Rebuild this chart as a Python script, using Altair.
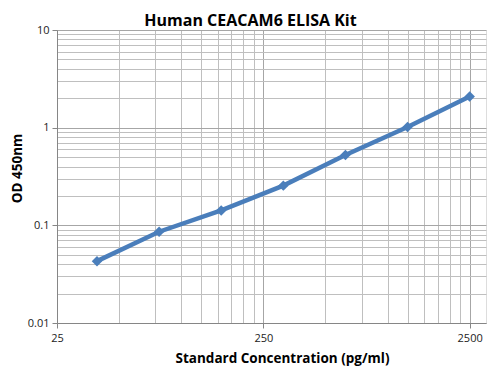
import altair as alt
import pandas as pd

conc = [39.06, 78.13, 156.25, 312.5, 625, 1250, 2500]
od = [0.043, 0.086, 0.142, 0.255, 0.526, 1.016, 2.09]

x_major = [25, 250, 2500]
x_grid = [25 * k for k in range(1, 10)] + [250 * k for k in range(1, 10)] + [2500]
y_major = [0.01, 0.1, 1, 10]
y_grid = [round(d * k, 4) for d in [0.01, 0.1, 1] for k in range(1, 10)] + [10]

df = pd.DataFrame({"conc": conc, "od": od})

xmaj_test = " || ".join(f"datum.value == {v}" for v in x_major)
ymaj_test = " || ".join(f"datum.value == {v}" for v in y_major)

x_enc = alt.X(
    "conc:Q",
    scale=alt.Scale(type="log", domain=[25, 3000], nice=False),
    axis=alt.Axis(
        values=x_grid,
        title="Standard Concentration (pg/ml)",
        labelExpr=f"({xmaj_test}) ? datum.value : ''",
        gridColor={"condition": {"test": xmaj_test, "value": "#a6a6a6"}, "value": "#bfbfbf"},
        tickOpacity={"condition": {"test": xmaj_test, "value": 1}, "value": 0},
        tickSize=5,
        tickColor="#868686",
        domainColor="#868686",
        labelFont="Open Sans",
        labelFontSize=11,
        labelColor="#222222",
        labelPadding=4,
        labelFlush=False,
        titleFont="Open Sans",
        titleFontSize=13.5,
        titleFontWeight="bold",
        titleColor="#000000",
        titlePadding=8,
        titleX=225,
        titleAlign="center",
    ),
)
y_enc = alt.Y(
    "od:Q",
    scale=alt.Scale(type="log", domain=[0.01, 10], nice=False),
    axis=alt.Axis(
        values=y_grid,
        title="OD 450nm",
        labelExpr=f"({ymaj_test}) ? datum.value : ''",
        gridColor={"condition": {"test": ymaj_test, "value": "#a6a6a6"}, "value": "#bfbfbf"},
        tickOpacity={"condition": {"test": ymaj_test, "value": 1}, "value": 0},
        tickSize=5,
        tickColor="#868686",
        domainColor="#868686",
        labelFont="Open Sans",
        labelFontSize=11,
        labelColor="#222222",
        labelPadding=3,
        titleFont="Open Sans",
        titleFontSize=13.5,
        titleFontWeight="bold",
        titleColor="#000000",
        titlePadding=3,
        titleY=138,
        titleAlign="center",
    ),
)

line = alt.Chart(df).mark_line(color="#4a7ebb", strokeWidth=4.5).encode(x=x_enc, y=y_enc)
pts = alt.Chart(df).mark_point(shape="diamond", filled=True, size=110, color="#4a7ebb", opacity=1).encode(
    x="conc:Q", y="od:Q"
)

chart = (
    alt.layer(line, pts)
    .properties(
        width=429,
        height=293,
        title=alt.TitleParams(
            "Human CEACAM6 ELISA Kit",
            font="Open Sans",
            fontSize=16,
            fontWeight="bold",
            color="#000000",
            offset=0,
            dy=5,
            dx=-21,
        ),
        autosize=alt.AutoSizeParams(type="none"),
        padding={"left": 49, "top": 22, "right": 10, "bottom": 46},
    )
    .configure_view(stroke="#bfbfbf")
    .configure(background="white")
)

chart.save("out.html", embed_options={"renderer": "svg", "actions": False})
